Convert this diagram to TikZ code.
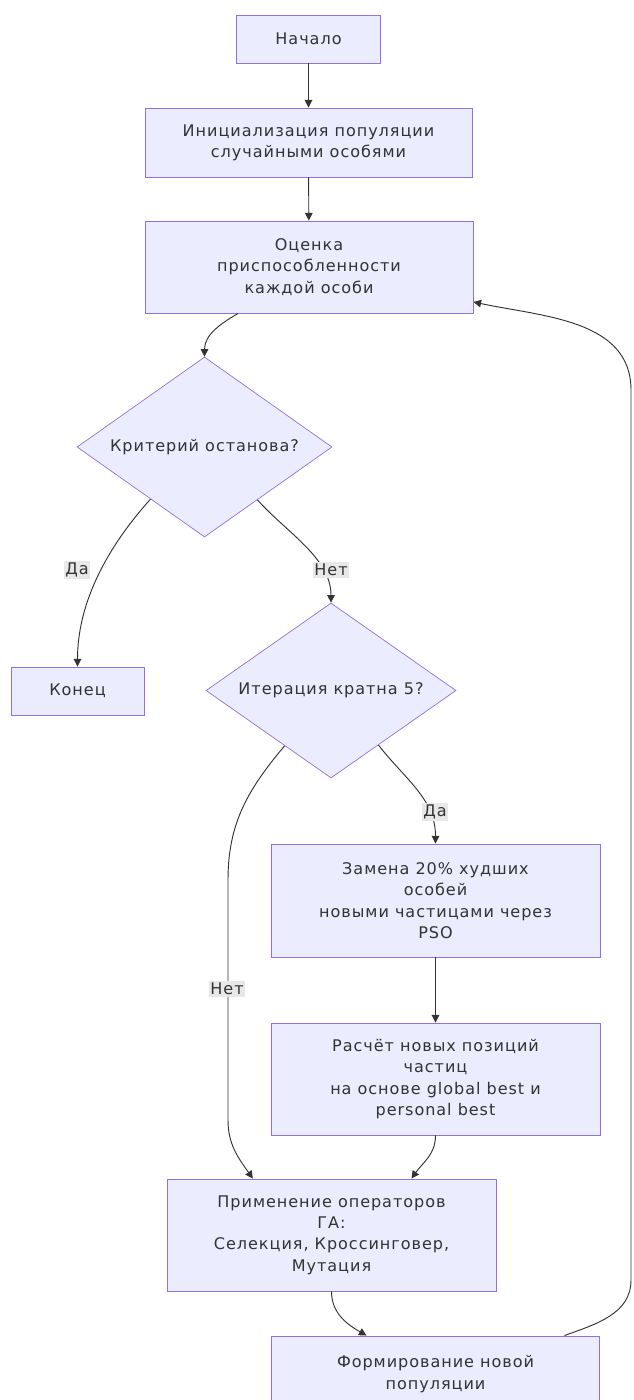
\documentclass[tikz,border=0pt]{standalone}
\usepackage{fontspec}
\setmainfont[LetterSpace=6]{DejaVu Sans}
\usepackage{tikz}
\usetikzlibrary{shapes.geometric, arrows.meta, positioning}
\definecolor{boxfill}{HTML}{ECECFF}
\definecolor{boxline}{HTML}{9370DB}
\definecolor{edgegray}{HTML}{333333}
\definecolor{lblgray}{HTML}{E8E8E8}

\begin{document}
\begin{tikzpicture}[
    x=0.03cm, y=0.03cm,
    box/.style={rectangle, draw=boxline, fill=boxfill, line width=0.8pt, inner sep=0pt, align=center, text=edgegray, font=\fontsize{13.7}{18.2}\selectfont},
    decision/.style={diamond, draw=boxline, fill=boxfill, line width=0.6pt, inner sep=0pt, aspect=1.4, align=center, text=edgegray, font=\fontsize{13.7}{18.2}\selectfont},
    conn/.style={-{Triangle[length=6.5pt,width=6.5pt]}, line width=0.8pt, edgegray},
    lbl/.style={fill=lblgray, text=edgegray, inner sep=1.5pt, font=\fontsize{13.7}{16}\selectfont}
]
\useasboundingbox (0,0) rectangle (633,-1400);
\clip (0,0) rectangle (633,-1400);

\node[box, minimum width=4.32cm, minimum height=1.44cm] (start) at (308.5,-39) {Начало};
\node[box, minimum width=9.81cm, minimum height=2.07cm] (init) at (308.5,-142.5) {Инициализация популяции\\случайными особями};
\node[box, minimum width=9.84cm, minimum height=2.76cm] (eval) at (309,-267) {Оценка\\приспособленности\\каждой особи};
\node[decision, minimum width=7.65cm, minimum height=5.4cm] (stop) at (204.5,-447) {Критерий останова?};
\node[box, minimum width=3.99cm, minimum height=1.44cm] (finish) at (77.5,-691) {Конец};
\node[decision, minimum width=7.5cm, minimum height=5.25cm] (iter) at (331,-690.5) {Итерация кратна 5?};
\node[box, minimum width=9.87cm, minimum height=3.39cm] (swap) at (435.5,-900.5) {Замена 20\% худших\\особей\\новыми частицами через\\PSO};
\node[box, minimum width=9.87cm, minimum height=3.36cm] (calcpos) at (435.5,-1079) {Расчёт новых позиций\\частиц\\на основе global best и\\personal best};
\node[box, minimum width=9.87cm, minimum height=3.36cm] (apply) at (331.5,-1235) {Применение операторов\\ГА:\\Селекция, Кроссинговер,\\Мутация};
\node[box, minimum width=9.84cm, minimum height=2.28cm] (newpop) at (435.5,-1374) {Формирование новой\\популяции};

\draw[conn] (start) -- (init);
\draw[conn] (init) -- (eval);
\draw[conn] ([xshift=-2.13cm]eval.south) to[out=210, in=90] (stop.north);
\draw[conn] (stop.224) to[out=228, in=90, looseness=0.9] (finish.north);
\draw[conn] (stop.315) to[out=-48, in=90, looseness=0.9] (iter.north);
\draw[conn] (iter.311) to[out=-52, in=90] (swap.north);
\draw[conn] (iter.230) to[out=230, in=90] (228,-880) -- (228,-1120) to[out=-90, in=125] ([xshift=-2.36cm]apply.north);
\draw[conn] (swap) -- (calcpos);
\draw[conn] (calcpos.south) to[out=-90, in=55] ([xshift=2.4cm]apply.north);
\draw[conn] (apply.south) to[out=-90, in=150] ([xshift=-2.07cm]newpop.north);
\draw[conn] ([xshift=3.87cm]newpop.north) to[out=20, in=-90] (631,-1280) -- (631,-390) to[out=90, in=-12] ([yshift=-1.05cm]eval.east);

% edge labels
\node[lbl] (yes1) at (77,-570) {Да};
\node[lbl] (no1) at (331,-570) {Нет};
\node[lbl] (yes2) at (435,-812) {Да};
\node[lbl] (no2) at (227,-989) {Нет};
\end{tikzpicture}
\end{document}
